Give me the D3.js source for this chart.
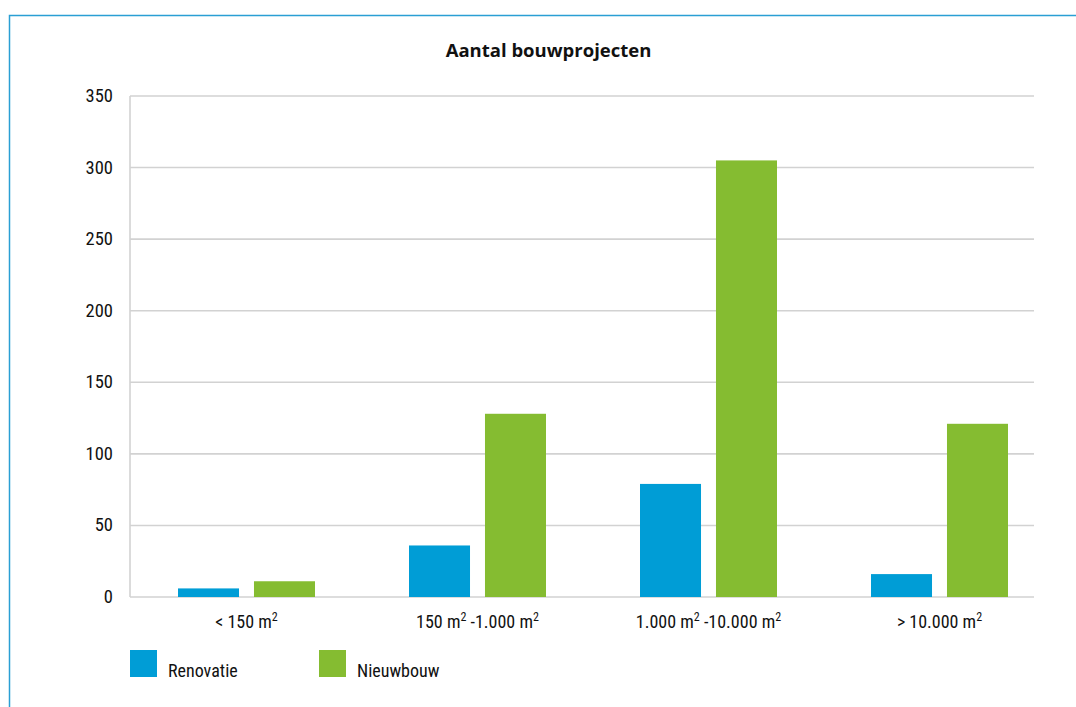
<!DOCTYPE html>
<html>
<head>
<meta charset="utf-8">
<script src="https://cdn.jsdelivr.net/npm/d3@7"></script>
<style>
  html, body { margin: 0; padding: 0; background: #fff; }
  svg { display: block; }
  .cond { font-family: "Liberation Sans Narrow", "Roboto Condensed", "DejaVu Sans Condensed", sans-serif; fill: #111; }
</style>
</head>
<body>
<svg id="chart" width="1076" height="707"></svg>
<script>
// Aantal bouwprojecten per oppervlakteklasse
const categories = [
  ["< 150 m", "2"],
  ["150 m", "2", " -1.000 m", "2"],
  ["1.000 m", "2", " -10.000 m", "2"],
  ["> 10.000 m", "2"]
];
const series = ["Renovatie", "Nieuwbouw"];
const renovatie = [6, 36, 79, 16];
const nieuwbouw = [11, 128, 305, 121];
const yTicks = [0, 50, 100, 150, 200, 250, 300, 350];
const colors = ["#009dd6", "#85bc31"];

const svg = d3.select("#chart");
const W = 1076, H = 707;

// frame
svg.append("path")
  .attr("d", `M9.5,${H} L9.5,15.5 L${W},15.5`)
  .attr("fill", "none")
  .attr("stroke", "#2a9fd4")
  .attr("stroke-width", 1.5);

const plot = { left: 130, right: 1034, top: 96, bottom: 597 };

const y = d3.scaleLinear().domain([0, 350]).range([plot.bottom, plot.top]);
const x0 = d3.scaleBand().domain(d3.range(categories.length)).range([131, 1055]);
const x1 = d3.scaleBand().domain(series).range([47, 184]).paddingInner(0.197);

// gridlines
svg.append("g").selectAll("line").data(yTicks).join("line")
  .attr("x1", plot.left).attr("x2", plot.right)
  .attr("y1", d => y(d)).attr("y2", d => y(d))
  .attr("stroke", "#d2d2d2").attr("stroke-width", 1.6);

// y axis line
svg.append("line")
  .attr("x1", plot.left).attr("x2", plot.left)
  .attr("y1", y(350)).attr("y2", y(0))
  .attr("stroke", "#d2d2d2").attr("stroke-width", 1.6);

// y tick labels
svg.append("g").selectAll("text").data(yTicks).join("text")
  .attr("class", "cond")
  .attr("x", 113)
  .attr("y", d => y(d) + 6)
  .attr("text-anchor", "end")
  .attr("font-size", 18.5)
  .text(d => d);

// bars
const rows = categories.map((c, i) => ({ i, vals: [renovatie[i], nieuwbouw[i]] }));
const groups = svg.append("g").selectAll("g").data(rows).join("g")
  .attr("transform", d => `translate(${x0(d.i)},0)`);
groups.selectAll("rect")
  .data(d => d.vals.map((v, k) => ({ k, v })))
  .join("rect")
  .attr("x", d => x1(series[d.k]))
  .attr("width", x1.bandwidth())
  .attr("y", d => y(d.v))
  .attr("height", d => y(0) - y(d.v))
  .attr("fill", d => colors[d.k]);

// category labels with superscripts
const catLabels = svg.append("g").selectAll("text").data(categories).join("text")
  .attr("class", "cond")
  .attr("x", (d, i) => x0(i) + (47 + 184) / 2)
  .attr("y", 628)
  .attr("text-anchor", "middle")
  .attr("font-size", 18);
catLabels.each(function (parts) {
  const t = d3.select(this);
  parts.forEach((p, j) => {
    const sup = j % 2 === 1;
    t.append("tspan")
      .attr("font-size", sup ? 12 : 18)
      .attr("dy", sup ? -7 : (j > 0 ? 7 : 0))
      .text(p);
  });
});

// title
svg.append("text")
  .attr("x", 548.5)
  .attr("y", 57)
  .attr("text-anchor", "middle")
  .attr("font-family", "'Open Sans', 'Noto Sans', sans-serif")
  .attr("font-weight", "bold")
  .attr("font-size", 18.5)
  .attr("fill", "#111")
  .text("Aantal bouwprojecten");

// legend
const legendX = [130, 319];
const legend = svg.append("g").selectAll("g").data(series).join("g")
  .attr("transform", (d, i) => `translate(${legendX[i]},650)`);
legend.append("rect")
  .attr("width", 27).attr("height", 27)
  .attr("fill", (d, i) => colors[i]);
legend.append("text")
  .attr("class", "cond")
  .attr("x", 38).attr("y", 27)
  .attr("font-size", 18)
  .text(d => d);
</script>
</body>
</html>
